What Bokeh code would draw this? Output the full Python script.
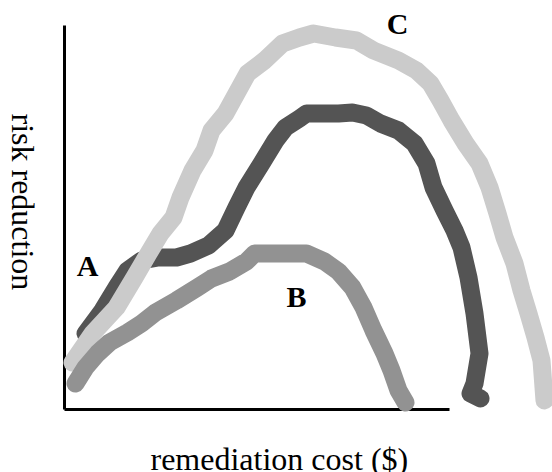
from math import pi
from bokeh.plotting import figure
from bokeh.models import Range1d, Label
from bokeh.embed import file_html
from bokeh.resources import INLINE

# Curve A (dark)
a_x = [21, 38, 52, 63, 77, 94, 112, 126, 144, 161, 172, 182, 197, 211, 221, 235, 242, 260, 274, 288,
       302, 316, 334, 350, 362, 369, 380, 390, 397, 404, 410, 415, 410, 406, 416]
a_y = [76, 99, 122, 139, 149, 152, 152, 156, 164, 179, 202, 222, 246, 269, 282, 291, 296, 296, 296, 297,
       294, 286, 279, 266, 246, 222, 199, 179, 162, 132, 96, 56, 26, 16, 11]

# Curve B (medium gray)
b_x = [11, 21, 33, 45, 63, 77, 91, 112, 133, 147, 165, 182, 190, 218, 242, 260, 274, 288, 299, 309,
       320, 327, 334, 341]
b_y = [26, 42, 56, 67, 77, 86, 97, 109, 122, 131, 138, 148, 156, 156, 156, 148, 138, 122, 102, 79,
       56, 39, 19, 7]

# Curve C (light gray)
c_x = [8, 28, 52, 70, 84, 96, 109, 116, 128, 140, 147, 161, 172, 183, 200, 218, 235, 249, 271, 292,
       309, 334, 352, 366, 376, 387, 401, 415, 425, 433, 440, 450, 457, 464, 471, 477, 480]
c_y = [47, 76, 102, 132, 156, 176, 192, 212, 239, 259, 279, 296, 316, 336, 349, 366, 372, 376, 372, 369,
       359, 349, 339, 326, 309, 289, 266, 246, 222, 196, 172, 146, 119, 96, 72, 49, 9]

curve_labels = ["A", "B", "C"]
label_x = [23, 232, 333]
label_y = [144, 113, 386]

# axis extents (cost, risk)
x_axis_end = 385
y_axis_end = 384

x_title = "remediation cost ($)"
y_title = "risk reduction"

p = figure(width=552, height=472, output_backend="svg", toolbar_location=None,
           x_range=Range1d(-64, 488), y_range=Range1d(-63, 409),
           x_axis_type=None, y_axis_type=None,
           min_border=0, min_border_left=0, min_border_bottom=0,
           min_border_top=0, min_border_right=0)
p.outline_line_color = None
p.background_fill_color = "white"
p.border_fill_color = "white"

# axis lines
p.segment(x0=[0, 0], y0=[0, 0], x1=[x_axis_end, 0], y1=[0, y_axis_end],
          line_color="black", line_width=3)

common = dict(line_width=18, line_cap="round", line_join="round")
p.line(a_x, a_y, line_color="#545454", **common)
p.line(c_x, c_y, line_color="#cbcbcb", **common)
p.line(b_x, b_y, line_color="#929292", **common)

for t, x, y in zip(curve_labels, label_x, label_y):
    p.add_layout(Label(x=x, y=y, text=t, text_font="Liberation Serif", text_font_style="bold",
                       text_font_size="30px", text_align="center", text_baseline="alphabetic",
                       text_color="black"))

p.add_layout(Label(x=86, y=-49, text=x_title, text_font="Liberation Serif",
                   text_font_size="32px", text_align="left", text_baseline="alphabetic",
                   text_color="black"))
p.add_layout(Label(x=-42, y=296, text=y_title, text_font="Liberation Serif", angle=-pi / 2,
                   text_font_size="32px", text_align="left", text_baseline="alphabetic",
                   text_color="black"))

open("out.html", "w").write(file_html(p, INLINE))
